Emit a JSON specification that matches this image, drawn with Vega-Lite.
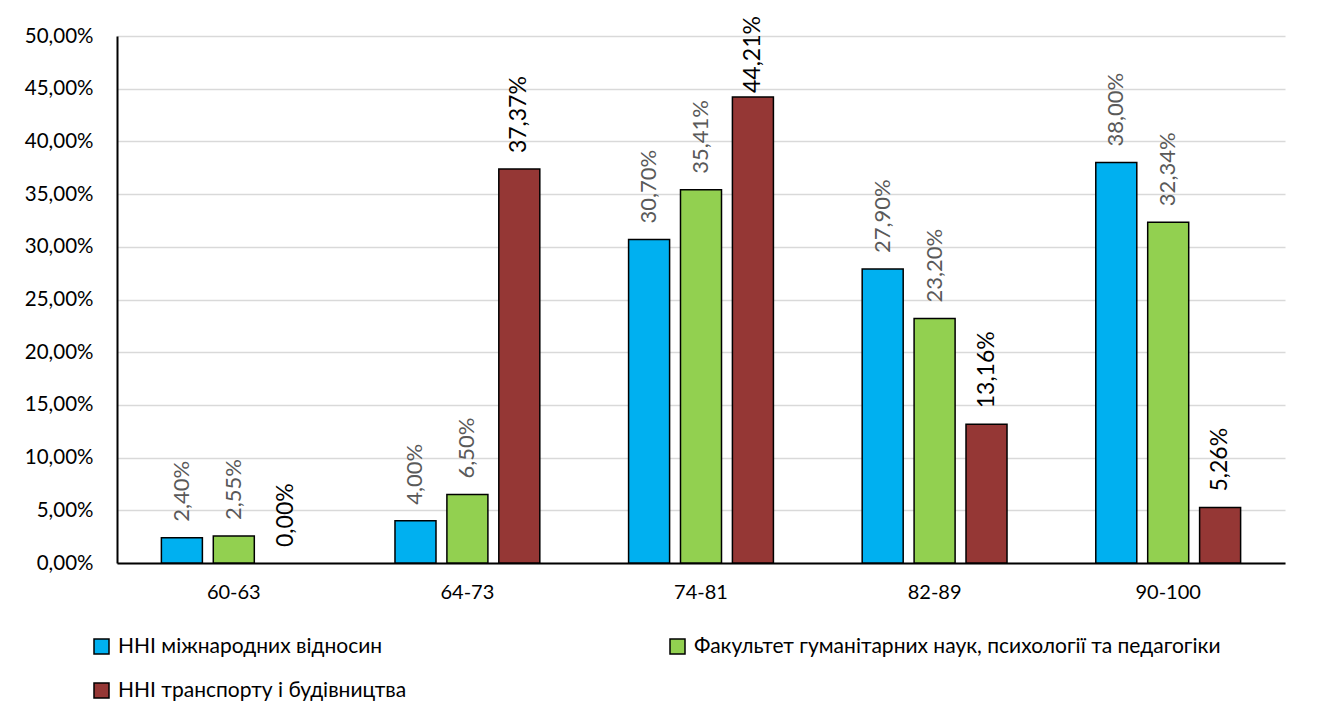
{
  "$schema": "https://vega.github.io/schema/vega-lite/v6.json",
  "width": 1168,
  "height": 527,
  "autosize": "none",
  "padding": {"left": 117, "top": 36, "right": 32, "bottom": 159},
  "background": "white",
  "config": {
    "font": "Lato",
    "view": {"stroke": null},
    "locale": {"number": {"decimal": ",", "thousands": " ", "grouping": [3], "currency": ["", " ₴"]}}
  },
  "data": {
    "values": [
      {"group": "60-63", "series": "ННІ міжнародних відносин", "value": 0.024},
      {"group": "60-63", "series": "Факультет гуманітарних наук, психології та педагогіки", "value": 0.0255},
      {"group": "60-63", "series": "ННІ транспорту і будівництва", "value": 0.0},
      {"group": "64-73", "series": "ННІ міжнародних відносин", "value": 0.04},
      {"group": "64-73", "series": "Факультет гуманітарних наук, психології та педагогіки", "value": 0.065},
      {"group": "64-73", "series": "ННІ транспорту і будівництва", "value": 0.3737},
      {"group": "74-81", "series": "ННІ міжнародних відносин", "value": 0.307},
      {"group": "74-81", "series": "Факультет гуманітарних наук, психології та педагогіки", "value": 0.3541},
      {"group": "74-81", "series": "ННІ транспорту і будівництва", "value": 0.4421},
      {"group": "82-89", "series": "ННІ міжнародних відносин", "value": 0.279},
      {"group": "82-89", "series": "Факультет гуманітарних наук, психології та педагогіки", "value": 0.232},
      {"group": "82-89", "series": "ННІ транспорту і будівництва", "value": 0.1316},
      {"group": "90-100", "series": "ННІ міжнародних відносин", "value": 0.38},
      {"group": "90-100", "series": "Факультет гуманітарних наук, психології та педагогіки", "value": 0.3234},
      {"group": "90-100", "series": "ННІ транспорту і будівництва", "value": 0.0526}
    ]
  },
  "encoding": {
    "x": {
      "field": "group", "type": "nominal",
      "sort": ["60-63", "64-73", "74-81", "82-89", "90-100"],
      "scale": {"paddingInner": 0.38, "paddingOuter": 0.19},
      "axis": {
        "title": null, "labelAngle": 0, "labelFontSize": 20, "labelColor": "#000000",
        "labelPadding": 19, "ticks": false, "domainColor": "#000000", "domainWidth": 2, "grid": false
      }
    },
    "xOffset": {
      "field": "series", "type": "nominal",
      "sort": ["ННІ міжнародних відносин", "Факультет гуманітарних наук, психології та педагогіки", "ННІ транспорту і будівництва"],
      "scale": {"paddingInner": 0.21, "paddingOuter": 0}
    },
    "y": {
      "field": "value", "type": "quantitative",
      "scale": {"domain": [0, 0.5], "nice": false},
      "axis": {
        "title": null, "format": ".2%", "values": [0, 0.05, 0.1, 0.15, 0.2, 0.25, 0.3, 0.35, 0.4, 0.45, 0.5],
        "labelFontSize": 20.5, "labelColor": "#000000", "labelPadding": 24, "ticks": false,
        "domainColor": "#000000", "domainWidth": 2, "gridColor": "#D9D9D9", "gridWidth": 1.5
      }
    }
  },
  "layer": [
    {
      "mark": {"type": "bar", "stroke": "#000000"},
      "encoding": {
        "strokeWidth": {
          "condition": {"test": "datum.value === 0", "value": 0},
          "value": 1.5
        },
        "color": {
          "field": "series", "type": "nominal",
          "sort": ["ННІ міжнародних відносин", "Факультет гуманітарних наук, психології та педагогіки", "ННІ транспорту і будівництва"],
          "scale": {
            "domain": ["ННІ міжнародних відносин", "Факультет гуманітарних наук, психології та педагогіки", "ННІ транспорту і будівництва"],
            "range": ["#00B0F0", "#92D050", "#953735"]
          },
          "legend": {
            "title": null, "orient": "none", "legendX": -26, "legendY": 600,
            "direction": "horizontal", "columns": 2, "columnPadding": 260, "rowPadding": 22,
            "symbolType": "square", "symbolSize": 225, "symbolStrokeColor": "#000000", "symbolStrokeWidth": 1.5,
            "symbolOffset": 0, "labelOffset": 6,
            "labelFontSize": 21, "labelColor": "#000000", "labelLimit": 0
          }
        }
      }
    },
    {
      "transform": [{"filter": "datum.value < 0.44"}],
      "mark": {"type": "text", "angle": 270, "align": "left", "baseline": "middle", "dx": 16},
      "encoding": {
        "text": {"field": "value", "type": "quantitative", "format": ".2%"},
        "color": {
          "condition": {"test": "datum.series === 'ННІ транспорту і будівництва'", "value": "#000000"},
          "value": "#595959"
        },
        "size": {
          "condition": {"test": "datum.series === 'ННІ транспорту і будівництва'", "value": 23},
          "value": 22
        }
      }
    },
    {
      "transform": [{"filter": "datum.value >= 0.44"}],
      "mark": {"type": "text", "angle": 270, "align": "left", "baseline": "middle", "dx": 4, "fontSize": 23, "color": "#000000"},
      "encoding": {
        "text": {"field": "value", "type": "quantitative", "format": ".2%"}
      }
    }
  ]
}
